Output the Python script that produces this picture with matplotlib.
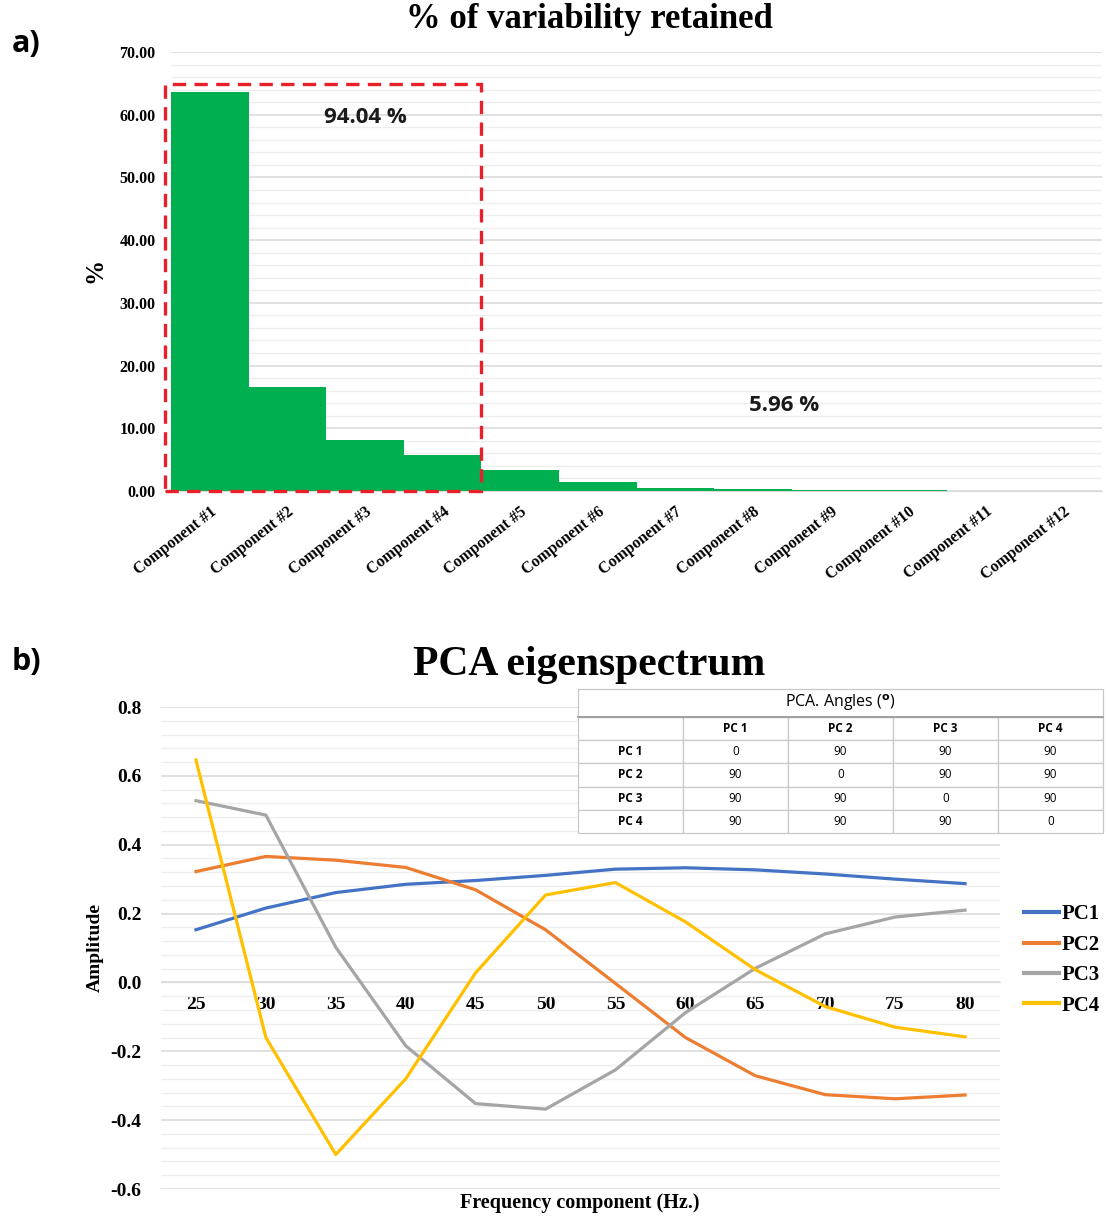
import matplotlib
matplotlib.use("Agg")
import matplotlib.pyplot as plt
from matplotlib.patches import Rectangle
from matplotlib.lines import Line2D
from matplotlib.ticker import MultipleLocator, FormatStrFormatter
from matplotlib.transforms import ScaledTranslation

# ---- data: panel a) ----
components = ["Component #1", "Component #2", "Component #3", "Component #4",
              "Component #5", "Component #6", "Component #7", "Component #8",
              "Component #9", "Component #10", "Component #11", "Component #12"]
variance = [63.6, 16.6, 8.1, 5.74, 3.4, 1.5, 0.55, 0.25, 0.12, 0.08, 0.04, 0.02]

# ---- data: panel b) ----
freq = [25, 30, 35, 40, 45, 50, 55, 60, 65, 70, 75, 80]
pc1 = [0.153, 0.216, 0.261, 0.285, 0.296, 0.311, 0.329, 0.333, 0.327, 0.315, 0.300, 0.287]
pc2 = [0.322, 0.366, 0.355, 0.334, 0.269, 0.153, -0.003, -0.160, -0.271, -0.326, -0.338, -0.327]
pc3 = [0.528, 0.486, 0.102, -0.184, -0.352, -0.368, -0.254, -0.088, 0.041, 0.141, 0.190, 0.210]
pc4 = [0.646, -0.160, -0.500, -0.280, 0.028, 0.254, 0.290, 0.176, 0.037, -0.070, -0.130, -0.158]
series_names = ["PC1", "PC2", "PC3", "PC4"]
series_colors = ["#4472C4", "#ED7D31", "#A5A5A5", "#FFC000"]

# angle table
angle_cols = ["PC 1", "PC 2", "PC 3", "PC 4"]
angles = [[0, 90, 90, 90],
          [90, 0, 90, 90],
          [90, 90, 0, 90],
          [90, 90, 90, 0]]

SERIF = "Liberation Serif"
SANS = "Open Sans"
plt.rcParams['font.family'] = [SERIF, 'DejaVu Sans']
plt.rcParams['font.weight'] = 'bold'

W, H = 1107, 1218
fig = plt.figure(figsize=(W / 100, H / 100), dpi=100)


def fbox(x0, y0, x1, y1):
    # pixel box (top-left origin) -> figure fraction rect
    return [x0 / W, 1 - y1 / H, (x1 - x0) / W, (y1 - y0) / H]


def excel_grid(ax, major, minor):
    ax.yaxis.set_major_locator(MultipleLocator(major))
    ax.yaxis.set_minor_locator(MultipleLocator(minor))
    ax.grid(which='major', axis='y', color='#d9d9d9', lw=1.1)
    ax.grid(which='minor', axis='y', color='#eeeeee', lw=1.0)
    ax.set_axisbelow(True)
    for s in ['top', 'right', 'left']:
        ax.spines[s].set_visible(False)
    ax.spines['bottom'].set_color('#d9d9d9')
    ax.tick_params(which='both', length=0)


# ================= a) =================
ax1 = fig.add_axes(fbox(171, 52, 1102, 491))
xs = list(range(len(variance)))
ax1.bar(xs, variance, width=1.0, color='#00B050', zorder=2)
ax1.set_xlim(-0.5, len(variance) - 0.5)
ax1.set_ylim(0, 70)
excel_grid(ax1, 10, 2)
ax1.yaxis.set_major_formatter(FormatStrFormatter('%.2f'))
ax1.tick_params(axis='y', pad=11, labelsize=11.5)
ax1.set_xticks(xs)
ax1.set_xticklabels(components, rotation=38, ha='right', va='top',
                    rotation_mode='anchor', fontsize=11.5)
ax1.tick_params(axis='x', pad=9)
shift = ScaledTranslation(0.0, 0, fig.dpi_scale_trans)
for lab in ax1.get_xticklabels():
    lab.set_transform(lab.get_transform() + shift)

# dashed box around the retained components
ax1.add_patch(Rectangle((-0.58, 0), 4.08, 64.9, fill=False, edgecolor='#E8202A',
                        lw=2.4, ls=(0, (4, 2.5)), clip_on=False, zorder=3))
ax1.text(2.0, 59.5, f"{sum(variance[:4]):.2f} %", family=SANS, fontweight='bold',
         fontsize=16, ha='center', va='center', color='#1a1a1a')
ax1.text(7.4, 13.7, f"{sum(variance[4:]):.2f} %", family=SANS, fontweight='bold',
         fontsize=16, ha='center', va='center', color='#1a1a1a')

fig.text(589 / W, 1 - 19 / H, "% of variability retained", fontsize=25,
         ha='center', va='center')
fig.text(95 / W, 1 - 270 / H, "%", fontsize=18, rotation=90, ha='center', va='center')
fig.text(26 / W, 1 - 44 / H, "a)", family=SANS, fontweight='bold', fontsize=22,
         ha='center', va='center')

# ================= b) =================
ax2 = fig.add_axes(fbox(161, 707, 1000, 1189))
for vals, name, col in zip([pc1, pc2, pc3, pc4], series_names, series_colors):
    ax2.plot(freq, vals, color=col, lw=2.3, label=name, zorder=3)
ax2.set_xlim(22.5, 82.5)
ax2.set_ylim(-0.6, 0.8)
excel_grid(ax2, 0.2, 0.04)
ax2.yaxis.set_major_formatter(FormatStrFormatter('%.1f'))
ax2.spines['bottom'].set_position(('data', 0))
ax2.set_xticks(freq)
ax2.tick_params(axis='x', pad=10, labelsize=14)
ax2.tick_params(axis='y', pad=14, labelsize=14)

fig.text(589 / W, 1 - 665 / H, "PCA eigenspectrum", fontsize=30, ha='center', va='center')
fig.text(95 / W, 1 - 948 / H, "Amplitude", fontsize=14, rotation=90, ha='center', va='center')
fig.text(580 / W, 1 - 1203 / H, "Frequency component (Hz.)", fontsize=14.5,
         ha='center', va='center')
fig.text(26 / W, 1 - 662 / H, "b)", family=SANS, fontweight='bold', fontsize=22,
         ha='center', va='center')

handles = [Line2D([], [], color=c, lw=3) for c in series_colors]
fig.legend(handles, series_names, loc='center left',
           bbox_to_anchor=(1024 / W, 1 - 960 / H), frameon=False, fontsize=15,
           handlelength=1.7, handletextpad=0.1, labelspacing=0.5,
           borderpad=0, borderaxespad=0)

# angle table
axt = fig.add_axes(fbox(578, 689, 1103, 833))
axt.set_axis_off()
title_frac = 28 / 144
cell_text = [[""] + angle_cols] + [[angle_cols[i]] + [str(v) for v in row]
                                   for i, row in enumerate(angles)]
tab = axt.table(cellText=cell_text, cellLoc='center',
                bbox=[0, 0, 1, 1 - title_frac])
tab.auto_set_font_size(False)
for (r, c), cell in tab.get_celld().items():
    cell.set_edgecolor('#c8c8c8')
    cell.set_linewidth(0.9)
    cell.set_facecolor('white')
    bold = (r == 0 or c == 0)
    cell.get_text().set_fontfamily(SANS)
    cell.get_text().set_fontweight('bold' if bold else 'normal')
    cell.get_text().set_fontsize(8.5)
axt.add_patch(Rectangle((0, 1 - title_frac), 1, title_frac, transform=axt.transAxes,
                        facecolor='white', edgecolor='#c8c8c8', lw=0.9, clip_on=False))
axt.plot([0, 1], [1 - title_frac, 1 - title_frac], transform=axt.transAxes,
         color='#9a9a9a', lw=1.3, clip_on=False)
axt.text(0.5, 1 - title_frac / 2, "PCA. Angles ($^{\\mathrm{o}}$)", transform=axt.transAxes,
         family=SANS, fontweight='normal', fontsize=11.5, ha='center', va='center')

fig.savefig("out.png", dpi=100)
